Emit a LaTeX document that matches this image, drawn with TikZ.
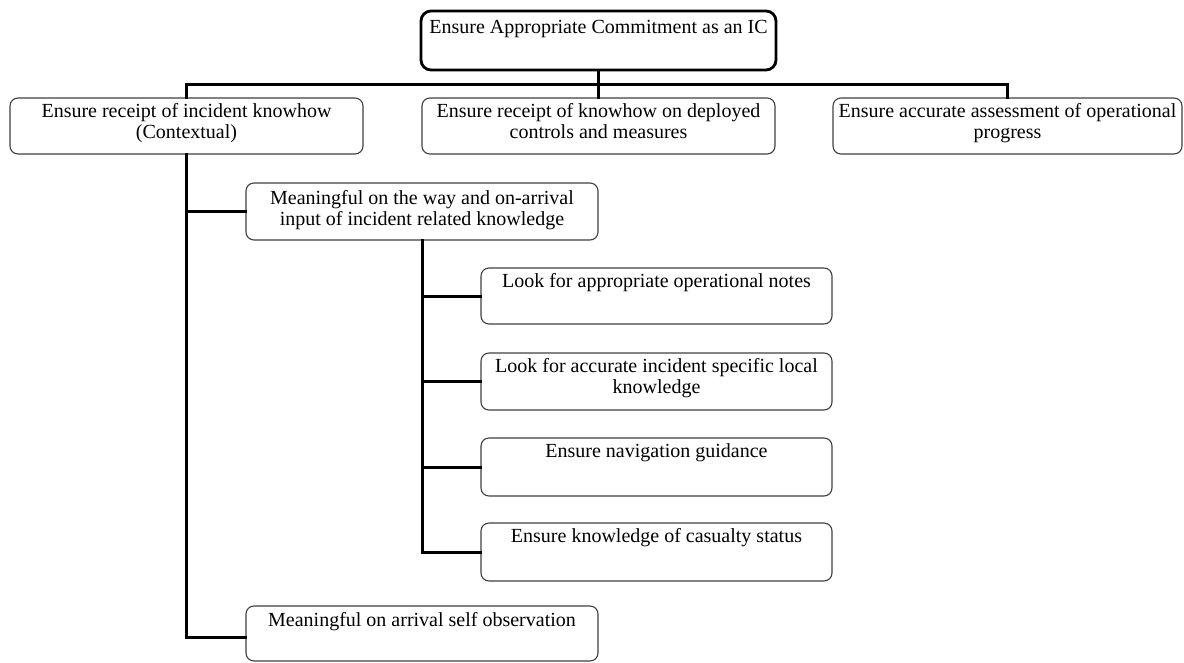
\documentclass[tikz,border=0pt]{standalone}
\usepackage{fontspec}
\setmainfont{Liberation Serif}
\begin{document}
\begin{tikzpicture}[x=1pt,y=-1pt,
  box/.style={draw=black!75, line width=1.1pt, rounded corners=8pt, inner sep=0pt, fill=white},
  rootbox/.style={draw=black, line width=2.8pt, rounded corners=10pt, inner sep=0pt, fill=white},
  lbl/.style={anchor=north, align=center, inner sep=0pt, font=\fontsize{20}{21}\selectfont},
  link/.style={line width=3pt, line cap=rect}]
\useasboundingbox (0,0) rectangle (1184,662);

\coordinate (bus) at (598.5,84);

% boxes
\node[rootbox, minimum width=355pt, minimum height=59pt] (root) at (598.5,40.5) {};
\node[box, minimum width=353pt, minimum height=56pt] (tl) at (186.5,126) {};
\node[box, minimum width=353pt, minimum height=56pt] (tm) at (598.5,126) {};
\node[box, minimum width=349pt, minimum height=56pt] (tr) at (1007.5,126) {};
\node[box, minimum width=352pt, minimum height=57pt] (mw) at (422,211.5) {};
\node[box, minimum width=351pt, minimum height=56pt] (sa) at (656.5,296) {};
\node[box, minimum width=351pt, minimum height=57pt] (sb) at (656.5,381.5) {};
\node[box, minimum width=351pt, minimum height=58pt] (sc) at (656.5,467) {};
\node[box, minimum width=351pt, minimum height=58pt] (sd) at (656.5,552) {};
\node[box, minimum width=352pt, minimum height=55pt] (bo) at (422,633.5) {};

% labels, set at the top of each box
\node[lbl] (roott) at ([yshift=-10pt]root.north) {Ensure Appropriate Commitment as an IC};
\node[lbl] (tlt) at ([yshift=-6pt]tl.north) {Ensure receipt of incident knowhow\\(Contextual)};
\node[lbl] (tmt) at ([yshift=-6pt]tm.north) {Ensure receipt of knowhow on deployed\\controls and measures};
\node[lbl] (trt) at ([yshift=-6pt]tr.north) {Ensure accurate assessment of operational\\progress};
\node[lbl] (mwt) at ([yshift=-8pt]mw.north) {Meaningful on the way and on-arrival\\input of incident related knowledge};
\node[lbl] (sat) at ([yshift=-6pt]sa.north) {Look for appropriate operational notes};
\node[lbl] (sbt) at ([yshift=-6pt]sb.north) {Look for accurate incident specific local\\knowledge};
\node[lbl] (sct) at ([yshift=-6pt]sc.north) {Ensure navigation guidance};
\node[lbl] (sdt) at ([yshift=-6pt]sd.north) {Ensure knowledge of casualty status};
\node[lbl] (bot) at ([yshift=-7pt]bo.north) {Meaningful on arrival self observation};

% tree connectors
\draw[link] (root.south) -- (bus);
\draw[link] (tl.north |- bus) -- (tr.north |- bus);
\draw[link] (tl.north |- bus) -- (tl.north);
\draw[link] (bus) -- (tm.north);
\draw[link] (tr.north |- bus) -- (tr.north);
\draw[link] (tl.south) |- ([yshift=-4pt]bo.west);
\draw[link] (tl.south |- mw.west) -- (mw.west);
\draw[link] (mw.south) |- (sd.west);
\draw[link] (mw.south |- sa.west) -- (sa.west);
\draw[link] (mw.south |- sb.west) -- (sb.west);
\draw[link] (mw.south |- sc.west) -- (sc.west);
\end{tikzpicture}
\end{document}
